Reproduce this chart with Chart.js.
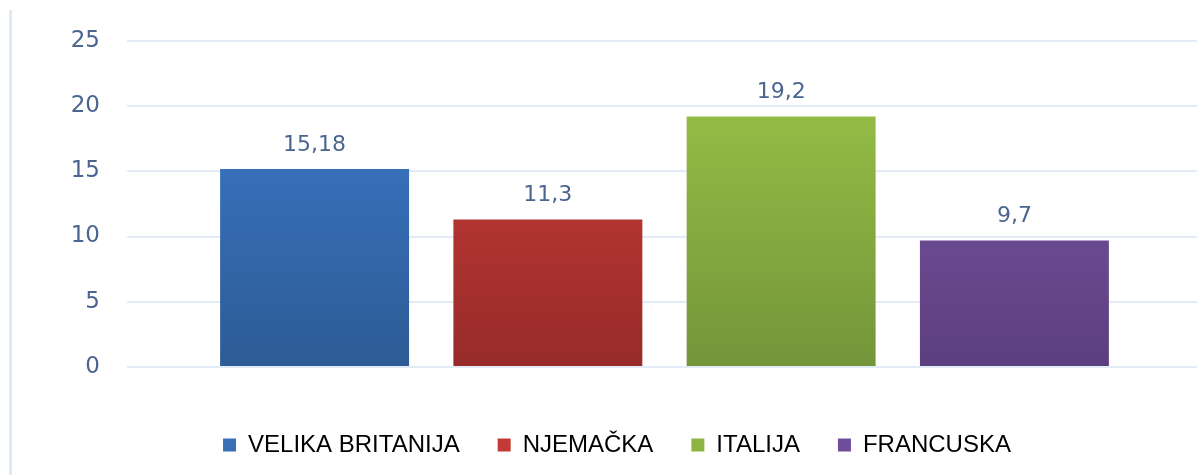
<!DOCTYPE html>
<html>
<head>
<meta charset="utf-8">
<script src="https://cdn.jsdelivr.net/npm/chart.js@4.4.0/dist/chart.umd.min.js"></script>
<style>
  html, body { margin: 0; padding: 0; background: #fff; overflow: hidden; }
  .wrap { position: relative; width: 1197px; height: 475px; overflow: hidden; }
  .edge { position: absolute; left: 9px; top: 10px; width: 3px; bottom: 0; background: #dde9f7; }
  canvas { position: absolute; left: 0; top: 0; }
</style>
</head>
<body>
<div class="wrap">
  <div class="edge"></div>
  <canvas id="zemlje" width="1202" height="475"></canvas>
</div>
<script>
// podaci
const zemlje = ["VELIKA BRITANIJA", "NJEMAČKA", "ITALIJA", "FRANCUSKA"];
const vrijednosti = [15.18, 11.3, 19.2, 9.7];
const yTicks = [0, 5, 10, 15, 20, 25];

const gornje = ["#3c7dcf", "#d13f3b", "#9cc748", "#7e5ba9"];
const donje = ["#2d5b95", "#972b29", "#74953a", "#5c3f7f"];
const legendBoje = ["#3a6fb6", "#c23a33", "#8db440", "#6e4e9a"];
const tekst = "#4a6690";

// gradient from top of each bar down to the baseline
function gradijent(i) {
  return function (ctx) {
    const area = ctx.chart.chartArea;
    if (!area) return gornje[i];
    const bar = ctx.chart.getDatasetMeta(i).data[0];
    const top = bar && bar.y ? bar.y : area.top;
    const g = ctx.chart.ctx.createLinearGradient(0, top, 0, area.bottom);
    g.addColorStop(0, gornje[i]);
    g.addColorStop(1, donje[i]);
    return g;
  };
}

const vrijednostiPlugin = {
  id: 'vrijednosti',
  afterDatasetsDraw(chart) {
    const c = chart.ctx;
    c.save();
    c.font = '22px "DejaVu Sans"';
    c.fillStyle = tekst;
    c.textAlign = 'center';
    c.textBaseline = 'middle';
    chart.data.datasets.forEach((ds, i) => {
      const bar = chart.getDatasetMeta(i).data[0];
      c.fillText(String(ds.data[0]).replace('.', ','), bar.x, bar.y - 24);
    });
    c.restore();
  }
};

new Chart(document.getElementById("zemlje"), {
  type: 'bar',
  data: {
    labels: [""],
    datasets: zemlje.map((z, i) => ({
      label: z,
      data: [vrijednosti[i]],
      backgroundColor: gradijent(i),
      borderWidth: 0
    }))
  },
  options: {
    responsive: false,
    animation: false,
    categoryPercentage: 0.868,
    barPercentage: 0.81,
    layout: { padding: { left: 32, top: 35, right: 0, bottom: 8 } },
    scales: {
      x: {
        grid: { display: false },
        border: { display: false },
        ticks: { display: false },
        afterFit: (axis) => { axis.height = 28; }
      },
      y: {
        min: 0,
        max: 25,
        afterBuildTicks: (axis) => { axis.ticks = yTicks.map(v => ({ value: v })); },
        afterFit: (axis) => { axis.width = 95; },
        border: { display: false },
        grid: { color: "#e2ebf6", lineWidth: 2, drawTicks: false },
        ticks: {
          padding: 27,
          color: tekst,
          font: { family: "DejaVu Sans", size: 23 }
        }
      }
    },
    plugins: {
      tooltip: { enabled: false },
      legend: {
        position: "bottom",
        labels: {
          boxWidth: 13,
          boxHeight: 13,
          padding: 38,
          color: tekst,
          font: { family: "Liberation Sans", size: 24 },
          generateLabels: (chart) => zemlje.map((z, i) => ({
            text: z,
            fillStyle: legendBoje[i],
            strokeStyle: legendBoje[i],
            lineWidth: 0,
            datasetIndex: i
          }))
        }
      }
    }
  },
  plugins: [vrijednostiPlugin]
});
</script>
</body>
</html>
